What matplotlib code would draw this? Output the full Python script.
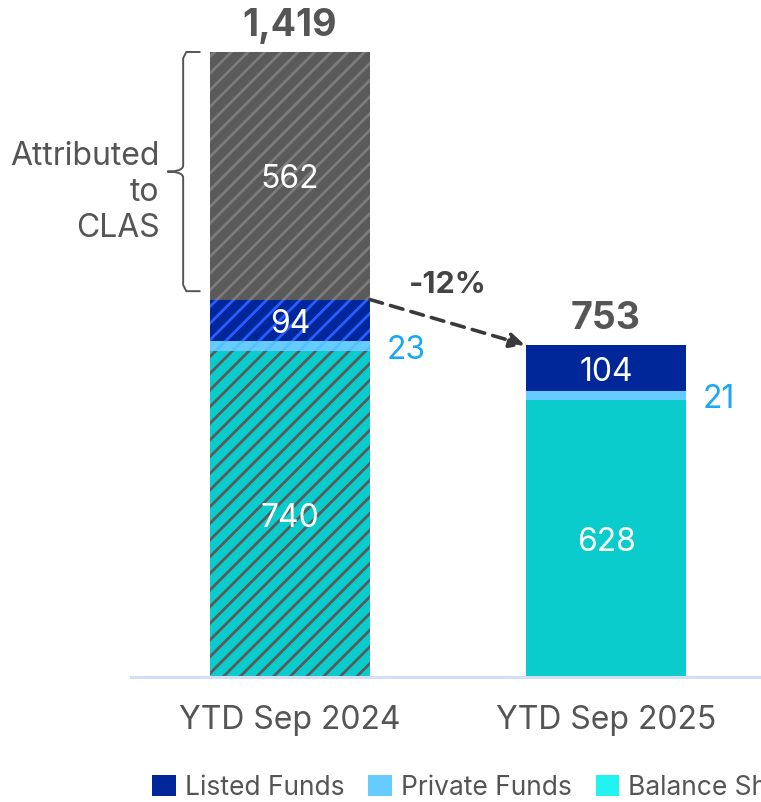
import matplotlib
matplotlib.use("Agg")
import matplotlib.pyplot as plt
from matplotlib.patches import Patch
from matplotlib.path import Path
from matplotlib.patches import PathPatch
import numpy as np

plt.rcParams['font.family'] = ['Inter', 'DejaVu Sans']
plt.rcParams['hatch.linewidth'] = 2.0

categories = ["YTD Sep 2024", "YTD Sep 2025"]
balance_sheet = [740, 628]
private_funds = [23, 21]
listed_funds = [94, 104]
clas = [562, 0]
totals = [1419, 753]
change_label = "-12%"
bracket_label = "Attributed\nto\nCLAS"
legend_labels = ["Listed Funds", "Private Funds", "Balance Sheet"]

C_LISTED = "#00279A"
C_PRIVATE = "#66CCFF"
C_BAL = "#0ACCCC"
C_BAL_LEG = "#22F2F0"
C_GRAY = "#5A5A5A"
C_TEXT = "#555555"
C_SMALL = "#1AA8F5"

fig = plt.figure(figsize=(7.61, 8.02), dpi=100)
ax = fig.add_axes([131/761, 1-677/802, 1-131/761, 677/802])
ax.set_xlim(-0.503, 1.49)
ax.set_ylim(0, 677/0.44045)
for s in ["top", "right", "left"]:
    ax.spines[s].set_visible(False)
ax.spines["bottom"].set_color("#D3DDF8")
ax.spines["bottom"].set_linewidth(2.2)
ax.set_yticks([])
x = np.arange(len(categories))
w = 0.506
ax.set_xticks(x)
ax.set_xticklabels(categories, fontsize=23, color=C_TEXT)
ax.tick_params(axis="x", length=0, pad=20)

hatched = [True, False]
for i in range(len(categories)):
    h = "//" if hatched[i] else None
    bottom = 0
    segs = [
        (balance_sheet[i], C_BAL, "#5A5A5A"),
        (private_funds[i], C_PRIVATE, "#52C2FF"),
        (listed_funds[i], C_LISTED, "#2A5CFF"),
        (clas[i], C_GRAY, "#7C7C7C"),
    ]
    for val, fc, hc in segs:
        if val <= 0:
            continue
        if h:
            ax.bar(x[i], val, w, bottom=bottom, color=fc, edgecolor=hc, linewidth=0, hatch=h)
        else:
            ax.bar(x[i], val, w, bottom=bottom, color=fc, linewidth=0)
        bottom += val

    def wlabel(yc, val):
        ax.annotate(f"{val}", (x[i], yc), xytext=(0, -3), textcoords="offset points",
                    ha="center", va="center", color="white", fontsize=23)

    wlabel(balance_sheet[i]/2, balance_sheet[i])
    lb = balance_sheet[i] + private_funds[i]
    wlabel(lb + listed_funds[i]/2, listed_funds[i])
    if clas[i] > 0:
        cb = lb + listed_funds[i]
        wlabel(cb + clas[i]/2, clas[i])
    # private small label
    ax.annotate(f"{private_funds[i]}", (x[i] + w/2, balance_sheet[i] + private_funds[i]/2),
                xytext=(12, -3), textcoords="offset points", ha="left", va="center",
                color=C_SMALL, fontsize=23)
    # totals
    ax.annotate(f"{totals[i]:,}", (x[i], totals[i]), xytext=(0, 6), textcoords="offset points",
                ha="center", va="bottom", color=C_TEXT, fontsize=27, fontweight="bold")

# arrow
start_y = balance_sheet[0] + private_funds[0] + listed_funds[0]
ax.annotate("", xy=(x[1] - w/2, totals[1]), xytext=(x[0] + w/2, start_y),
            arrowprops=dict(arrowstyle="-|>,head_length=0.9,head_width=0.45", color="#3A3A3A",
                            lw=2.6, linestyle=(0, (3.6, 2.3)), shrinkA=0, shrinkB=1))
ax.annotate(change_label, ((x[0] + x[1]) / 2, (start_y + totals[1]) / 2), xytext=(0, 27),
            textcoords="offset points", ha="center", va="center", color="#444444",
            fontsize=22, fontweight="bold")

# bracket
y0 = balance_sheet[0] + private_funds[0] + listed_funds[0] + 19
y1 = totals[0]
ym = (y0 + y1) / 2
xl = x[0] - w/2
xv = xl - 0.085
xt = xl - 0.135
xh = xl - 0.03
r = 14
verts = [(xh, y1), (xv + 0.01, y1), (xv, y1 - r), (xv, ym + r),
         (xv, ym + 2), (xt + 0.02, ym), (xt, ym),
         (xt + 0.02, ym), (xv, ym - 2), (xv, ym - r),
         (xv, y0 + r), (xv + 0.01, y0), (xh, y0)]
codes = [Path.MOVETO, Path.LINETO, Path.LINETO, Path.LINETO,
         Path.CURVE4, Path.CURVE4, Path.CURVE4,
         Path.CURVE4, Path.CURVE4, Path.CURVE4,
         Path.LINETO, Path.LINETO, Path.LINETO]
ax.add_patch(PathPatch(Path(verts, codes), fill=False, edgecolor=C_TEXT, lw=1.4, clip_on=False))
ax.text(xt - 0.025, ym - 48, bracket_label, ha="right", va="center", color=C_TEXT,
        fontsize=23, linespacing=1.2, clip_on=False)

handles = [Patch(facecolor=C_LISTED), Patch(facecolor=C_PRIVATE), Patch(facecolor=C_BAL_LEG)]
fig.legend(handles, legend_labels, loc="center left", bbox_to_anchor=(0.2, 0.018),
           ncol=3, frameon=False, fontsize=19, handlelength=0.9, handleheight=0.9,
           handletextpad=0.34, columnspacing=0.9, labelcolor=C_TEXT, borderaxespad=0,
           borderpad=0)

fig.savefig("out.png", dpi=100)
